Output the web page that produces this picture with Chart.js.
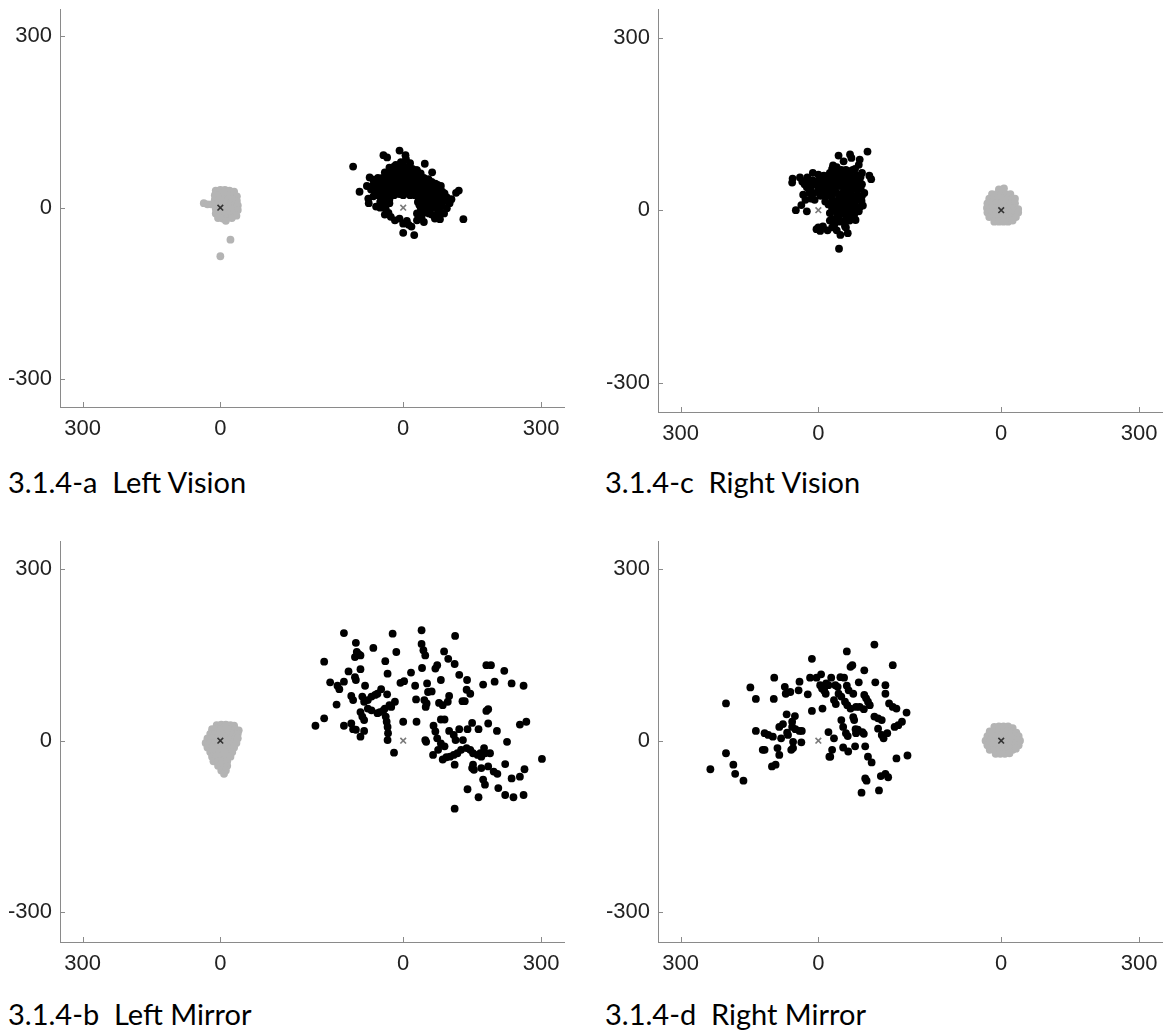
<!DOCTYPE html>
<html>
<head>
<meta charset="utf-8">
<script src="https://cdn.jsdelivr.net/npm/chart.js@4.4.1/dist/chart.umd.min.js"></script>
<style>
  html, body { margin: 0; padding: 0; background: #fff; }
  #page { position: relative; width: 1169px; height: 1032px; overflow: hidden; background: #fff; }
  .panel { position: absolute; }
  .caption { position: absolute; font-family: Lato, sans-serif; font-size: 29px; line-height: 29px; color: #000; white-space: pre; }
</style>
</head>
<body>
<div id="page"></div>
<script>
// tick values / labels (the axis shows two origins side by side)
const xTickValues = [-300, 0, 398, 698];
const xTickLabels = ["300", "0", "0", "300"];
const yTickValues = [-300, 0, 300];
const yTickLabels = ["-300", "0", "300"];
const origins = [0, 398];

const panelTitles = ["3.1.4-a  Left Vision", "3.1.4-c  Right Vision", "3.1.4-b  Left Mirror", "3.1.4-d  Right Mirror"];

// points are [x, y] relative to their own origin
const leftVisionGray = [
  [-10,30],[0,31],[10,31],[20,30],[30,28],
  [-12,22],[-2,22],[8,22],[18,22],[28,22],[36,20],
  [-12,14],[-4,14],[6,14],[16,14],[26,14],[36,12],
  [-20,6],[-8,6],[2,6],[12,6],[22,6],[32,6],[38,4],
  [-10,-2],[0,-2],[10,-2],[20,-2],[30,-2],[38,-4],
  [-10,-10],[0,-10],[10,-10],[20,-10],[30,-10],[35,-14],
  [-5,-18],[5,-19],[15,-18],[25,-18],[12,-23],
  [-36,8],[-28,6],[22,-56],[0,-85]
];
const leftVisionBlack = [
  [-109,72],[-8,100],[-43,92],[-35,88],[6,85],[47,77],[63,62],[28,66],[-16,75],[-73,53],[-65,49],[-48,49],
  [-95,28],[-79,38],[-56,28],[-76,16],[-75,8],[-59,2],[-40,13],[-32,-9],[-27,-16],[-8,-19],[8,-23],[0,-44],
  [24,-48],[18,-33],[40,-16],[56,-10],[69,-19],[89,-10],[95,-1],[101,8],[85,13],[115,26],[121,30],[131,-20],
  [69,28],[77,19],[65,13],
  [-50,40],[-40,45],[-30,50],[-20,55],[-10,60],[0,65],[10,60],[20,55],[30,50],[40,45],[50,40],[60,35],
  [-45,25],[-35,30],[-25,35],[-15,40],[-5,45],[5,50],[15,45],[25,40],[35,35],[45,30],[55,25],[65,20],
  [-30,15],[-20,22],[-10,25],[0,30],[10,35],[20,30],[30,25],[40,20],[50,15],[60,8],[70,5],
  [-8,24],[15,22],[32,10],[35,5],[45,0],[55,-3],[30,-10],[10,70],[-5,80],[0,75],[15,78],
  [-25,65],[-15,70],[5,92],[-2,55],[12,48],[28,58],[38,60],[-35,60],[-60,42],[-55,35],[75,40],[80,30],
  [90,25],[-65,20],[48,-8],[78,5],[-48,18],
  [-30,70],[-20,72],[-10,68],[5,68],[20,68],[30,66],
  [-40,62],[-30,58],[-15,62],[-5,62],[5,60],[15,62],[25,60],[35,55],[45,52],[55,50],
  [-55,52],[-45,52],[-35,52],[-25,48],[-12,52],[0,52],[8,55],[18,52],[28,48],[42,50],[52,46],[62,45],[70,42],
  [-65,40],[-52,44],[-42,38],[-32,42],[-22,44],[-10,42],[0,42],[10,42],[20,42],[30,42],[40,38],[50,35],[60,42],[70,35],[82,38],
  [-70,32],[-60,30],[-50,32],[-40,30],[-30,34],[-20,32],[-10,34],[8,28],[18,38],[28,32],[38,28],[48,24],[58,28],[68,35],[85,28],
  [-58,22],[-40,22],[-30,25],[-15,28],[0,22],[25,22],[35,20],[45,18],[55,16],[65,25],[75,25],[85,20],[95,18],
  [-50,10],[-42,6],[-30,8],[38,12],[48,8],[58,18],[68,10],[78,12],[90,12],[105,15],
  [-50,0],[-38,-2],[38,0],[55,5],[65,0],[78,-2],[85,3],
  [-40,-12],[40,-8],[62,-12],[75,-10],[80,-20],
  [-18,-22],[0,-28],[12,-30],[30,-22],[45,-25]
];

const rightVisionGray = [
  [-5,36],[6,38],
  [-20,28],[-10,28],[0,28],[10,28],[20,28],
  [-26,20],[-16,20],[-6,20],[4,20],[14,20],[24,20],[30,20],
  [-30,12],[-20,12],[-10,12],[0,12],[10,12],[20,12],[30,12],
  [-31,4],[-21,4],[-11,4],[-1,4],[9,4],[19,4],[29,4],[37,2],
  [-30,-4],[-20,-4],[-10,-4],[0,-4],[10,-4],[20,-4],[30,-4],[37,-4],
  [-26,-12],[-16,-12],[-6,-12],[4,-12],[14,-12],[24,-12],[32,-12],
  [-15,-20],[-5,-20],[5,-20],[15,-20],[25,-18]
];
const rightVisionBlack = [
  [107,102],[69,97],[72,91],[44,95],[88,79],[32,78],[-56,55],[-57,48],[-40,57],[-24,57],[-12,65],[111,60],
  [115,54],[-18,39],[-33,27],[-37,9],[-49,0],[-25,-2],[-4,-33],[4,-36],[20,-35],[48,-43],[64,-40],[45,-67],
  [81,-17],[94,16],[97,8],[12,60],[4,39],[16,45],
  [0,40],[10,30],[20,50],[30,40],[40,30],[50,20],[60,10],[70,0],[80,25],[30,20],[40,10],[50,50],
  [60,40],[70,30],[80,45],[22,10],[30,0],[50,-5],[60,-10],[70,60],[60,70],[55,85],[45,60],[25,25],
  [15,15],[35,55],[65,50],[75,15],[85,35],[90,50],[-10,30],[-5,45],[5,55],[40,-15],[55,-20],[35,-25],
  [45,-10],[65,20],[75,70],[25,65],[85,60],[-20,50],[5,25],[30,-30],[100,30],[95,65],[50,0],[60,30],
  [40,45],[70,45],[80,10],[20,35],[10,45],[-8,18],[58,-28],[72,-8],[88,-2],[-30,45],
  [30,72],[40,75],[50,70],[62,62],[80,72],[90,88],
  [0,62],[18,58],[30,58],[40,65],[55,60],[68,68],[78,58],[92,58],
  [-35,50],[-12,52],[0,50],[12,52],[28,48],[38,50],[58,52],[75,52],[85,48],[95,45],
  [-25,40],[-15,42],[10,38],[22,42],[35,38],[45,42],[55,40],[65,38],[75,40],[92,38],
  [-20,30],[0,32],[15,25],[30,30],[45,25],[55,32],[70,22],[85,25],[95,25],
  [-28,18],[-15,20],[35,15],[45,18],[55,12],[62,22],[80,18],[90,5],
  [28,8],[38,2],[48,8],[65,5],[72,12],[82,2],
  [25,-5],[40,-5],[58,0],[78,-8],[68,-18],
  [25,-18],[30,-15],[48,-20],[10,-28],[0,-30],[60,-30],[40,-35]
];

const leftMirrorGray = [
  [-8,27],[2,28],[12,28],[22,27],[30,26],
  [-18,20],[-8,20],[2,20],[12,20],[22,20],[32,20],[40,18],
  [-22,12],[-12,12],[-2,12],[8,12],[18,12],[28,12],[38,12],
  [-28,4],[-18,4],[-8,4],[2,4],[12,4],[22,4],[32,4],[38,4],
  [-32,-4],[-22,-4],[-12,-4],[-2,-4],[8,-4],[18,-4],[28,-4],[35,-4],
  [-28,-12],[-18,-12],[-8,-12],[2,-12],[12,-12],[22,-12],[30,-12],
  [-22,-20],[-12,-20],[-2,-20],[8,-20],[18,-20],[26,-20],
  [-18,-28],[-8,-28],[2,-28],[12,-28],[22,-28],
  [-15,-36],[-5,-36],[5,-36],[15,-36],
  [-5,-44],[5,-44],[15,-44],
  [2,-52],[12,-52],[8,-58]
];
const leftMirrorBlack = [
  [-191,26],[-172,39],[-172,138],[-159,102],[-145,63],[-143,96],[-139,90],[-129,188],[-129,103],[-129,26],
  [-119,121],[-113,78],[-109,71],[-113,30],[-105,111],[-103,106],[-103,171],[-101,155],[-97,151],[-93,149],
  [-105,146],[-93,125],[-109,20],[-103,19],[-93,50],[-89,42],[-85,36],[-93,7],[-85,17],[-83,96],[-89,77],
  [-85,68],[-77,71],[-69,77],[-61,80],[-56,82],[-77,56],[-69,53],[-65,162],[-56,48],[-51,50],[-43,53],
  [-40,56],[-48,90],[-39,139],[-35,81],[-34,117],[-38,42],[-36,33],[-34,24],[-33,13],[-34,1],[-30,62],
  [-26,59],[-18,68],[-23,187],[-15,155],[-20,-21],[-6,101],[2,104],[0,33],[17,119],[26,96],[28,72],[29,33],
  [40,193],[40,169],[44,158],[48,149],[41,127],[46,71],[51,65],[49,59],[52,100],[54,85],[62,86],[50,-2],
  [48,1],[70,126],[74,132],[82,106],[78,66],[86,62],[97,68],[100,78],[89,156],[98,143],[66,26],[70,16],
  [74,4],[82,-5],[90,-10],[65,-25],[76,-16],[82,37],[90,37],[86,-33],[94,-29],[102,-28],[110,-25],[118,-22],
  [126,-16],[138,-13],[100,17],[112,134],[113,183],[110,10],[114,1],[112,-42],[112,-119],[122,115],[122,20],
  [130,1],[129,69],[134,69],[138,89],[139,106],[146,82],[140,-85],[140,20],[150,31],[146,-16],[152,-22],
  [162,-25],[170,-28],[152,-42],[154,-51],[150,-48],[164,20],[164,-99],[168,-22],[170,-48],[174,-68],
  [178,-77],[174,98],[176,-13],[178,-22],[181,132],[191,132],[181,52],[185,55],[185,30],[185,-45],
  [197,-54],[205,-58],[189,-22],[199,103],[204,17],[207,-83],[220,122],[222,-41],[222,-95],[226,-2],
  [236,100],[236,-66],[240,-99],[254,28],[254,-63],[262,96],[262,-95],[264,-50],[268,33],[302,-32]
];

const rightMirrorGray = [
  [-15,24],[-5,25],[5,25],[15,25],[25,22],
  [-25,16],[-15,16],[-5,16],[5,16],[15,16],[25,16],[33,14],
  [-30,8],[-20,8],[-10,8],[0,8],[10,8],[20,8],[30,8],[38,8],
  [-34,0],[-24,0],[-14,0],[-4,0],[6,0],[16,0],[26,0],[36,0],[41,0],
  [-30,-8],[-20,-8],[-10,-8],[0,-8],[10,-8],[20,-8],[30,-8],[38,-8],
  [-25,-16],[-15,-16],[-5,-16],[5,-16],[15,-16],[25,-16],[32,-14],
  [-12,-23],[-2,-23],[8,-23],[18,-22]
];
const rightMirrorBlack = [
  [-235,-50],[-201,65],[-201,-22],[-185,-42],[-181,-58],[-163,-70],[-148,93],[-136,73],[-136,17],[-121,-16],
  [-117,-16],[-117,13],[-109,10],[-99,7],[-101,-45],[-93,-42],[-96,110],[-97,73],[-89,-13],[-85,-25],[-85,24],
  [-77,29],[-81,4],[-73,94],[-71,82],[-61,85],[-69,46],[-68,14],[-66,10],[-59,-16],[-55,-13],[-57,33],[-51,43],
  [-57,24],[-55,-2],[-50,20],[-41,17],[-41,103],[-43,88],[-37,-3],[-36,17],[-23,81],[-18,110],[-14,143],
  [-14,52],[-4,110],[6,116],[4,97],[8,91],[13,87],[9,56],[17,100],[22,97],[16,82],[22,15],[28,110],[26,-28],
  [30,-16],[34,4],[24,-28],[34,71],[38,64],[37,97],[42,94],[48,111],[56,110],[44,82],[50,77],[50,36],[54,24],
  [62,156],[62,96],[66,88],[76,82],[58,68],[63,62],[60,13],[64,8],[54,-12],[65,-19],[70,129],[74,132],[70,56],
  [76,41],[78,36],[81,20],[82,13],[88,102],[80,-10],[86,19],[96,15],[99,12],[99,55],[100,123],[100,80],
  [104,74],[108,68],[112,62],[102,-10],[102,-66],[105,-70],[94,-91],[108,-28],[116,-38],[122,168],[124,102],
  [122,42],[130,39],[138,36],[130,21],[138,10],[142,4],[132,-87],[136,-62],[146,-58],[152,-64],[146,97],
  [146,82],[150,13],[154,65],[162,59],[162,132],[166,24],[174,27],[182,33],[170,56],[170,-31],[192,49],
  [194,-26],[82,59],[90,59]
];

// layout of the four panels (pixels) and y ranges
const panels = [
  { title: panelTitles[0], gray: leftVisionGray, black: leftVisionBlack, grayOrigin: 0, left: 0, top: 0, areaTop: 9, areaBottom: 407, yMin: -349, yMax: 348 },
  { title: panelTitles[1], gray: rightVisionGray, black: rightVisionBlack, grayOrigin: 1, left: 598, top: 0, areaTop: 9, areaBottom: 412, yMin: -351, yMax: 350 },
  { title: panelTitles[2], gray: leftMirrorGray, black: leftMirrorBlack, grayOrigin: 0, left: 0, top: 532, areaTop: 9, areaBottom: 410, yMin: -352, yMax: 349 },
  { title: panelTitles[3], gray: rightMirrorGray, black: rightMirrorBlack, grayOrigin: 1, left: 598, top: 532, areaTop: 9, areaBottom: 410, yMin: -352, yMax: 349 }
];

const CANVAS_W = 590, CANVAS_H = 460;
const axisColor = "#8a8a8a";
const labelColor = "#222222";
const tickFont = { family: "'Liberation Sans', Arial, sans-serif", size: 22 };

// small tick marks that point into the plot, like the original
const innerTicks = {
  id: "innerTicks",
  afterDraw(chart) {
    const { ctx, chartArea, scales } = chart;
    ctx.save();
    ctx.strokeStyle = axisColor;
    ctx.lineWidth = 1;
    ctx.beginPath();
    scales.x.ticks.forEach(t => {
      const px = Math.round(scales.x.getPixelForValue(t.value)) + 0.5;
      ctx.moveTo(px, chartArea.bottom);
      ctx.lineTo(px, chartArea.bottom - 5);
    });
    scales.y.ticks.forEach(t => {
      const py = Math.round(scales.y.getPixelForValue(t.value)) + 0.5;
      ctx.moveTo(chartArea.left, py);
      ctx.lineTo(chartArea.left + 5, py);
    });
    ctx.stroke();
    ctx.restore();
  }
};

const page = document.getElementById("page");

panels.forEach(p => {
  const canvas = document.createElement("canvas");
  canvas.className = "panel";
  canvas.width = CANVAS_W;
  canvas.height = CANVAS_H;
  canvas.style.left = p.left + "px";
  canvas.style.top = p.top + "px";
  canvas.style.width = CANVAS_W + "px";
  canvas.style.height = CANVAS_H + "px";
  page.appendChild(canvas);

  const grayX = origins[p.grayOrigin];
  const blackX = origins[1 - p.grayOrigin];

  new Chart(canvas.getContext("2d"), {
    type: "scatter",
    data: {
      datasets: [
        {
          label: "gray origin",
          data: [{ x: grayX, y: 0 }],
          pointStyle: "crossRot",
          pointRadius: 4,
          borderColor: "#333333",
          borderWidth: 1.6,
          order: 0
        },
        {
          label: "black origin",
          data: [{ x: blackX, y: 0 }],
          pointStyle: "crossRot",
          pointRadius: 4,
          borderColor: "#7a7a7a",
          borderWidth: 1.6,
          order: 0
        },
        {
          label: "black",
          data: p.black.map(d => ({ x: d[0] + blackX, y: d[1] })),
          pointRadius: 3.9,
          backgroundColor: "#000000",
          borderWidth: 0,
          order: 1
        },
        {
          label: "gray",
          data: p.gray.map(d => ({ x: d[0] + grayX, y: d[1] })),
          pointRadius: 3.9,
          backgroundColor: "#b4b4b4",
          borderWidth: 0,
          order: 2
        }
      ]
    },
    options: {
      responsive: false,
      animation: false,
      devicePixelRatio: 1,
      events: [],
      layout: { padding: { top: p.areaTop, right: CANVAS_W - 564, bottom: 0, left: 0 } },
      plugins: { legend: { display: false }, tooltip: { enabled: false }, title: { display: false } },
      scales: {
        x: {
          type: "linear",
          min: -349,
          max: 748,
          afterBuildTicks: s => { s.ticks = xTickValues.map(v => ({ value: v })); },
          afterFit: s => {
            s.height = CANVAS_H - p.areaBottom;
            s.paddingLeft = 0; s.paddingRight = 0;
          },
          grid: { display: true, drawOnChartArea: false, drawTicks: false },
          border: { display: true, color: axisColor, width: 1 },
          ticks: {
            autoSkip: false,
            maxRotation: 0,
            padding: 9,
            color: labelColor,
            font: tickFont,
            callback: (v, i) => xTickLabels[i]
          }
        },
        y: {
          type: "linear",
          min: p.yMin,
          max: p.yMax,
          afterBuildTicks: s => { s.ticks = yTickValues.map(v => ({ value: v })); },
          afterFit: s => {
            s.width = 60;
            s.paddingTop = 0; s.paddingBottom = 0;
          },
          grid: { display: true, drawOnChartArea: false, drawTicks: false },
          border: { display: true, color: axisColor, width: 1 },
          ticks: {
            autoSkip: false,
            padding: 8,
            color: labelColor,
            font: tickFont,
            callback: (v, i) => yTickLabels[i]
          }
        }
      }
    },
    plugins: [innerTicks]
  });

  const cap = document.createElement("div");
  cap.className = "caption";
  cap.textContent = p.title;
  cap.style.left = (p.left === 0 ? 8 : 605) + "px";
  cap.style.top = (p.top + 467) + "px";
  page.appendChild(cap);
});
</script>
</body>
</html>
